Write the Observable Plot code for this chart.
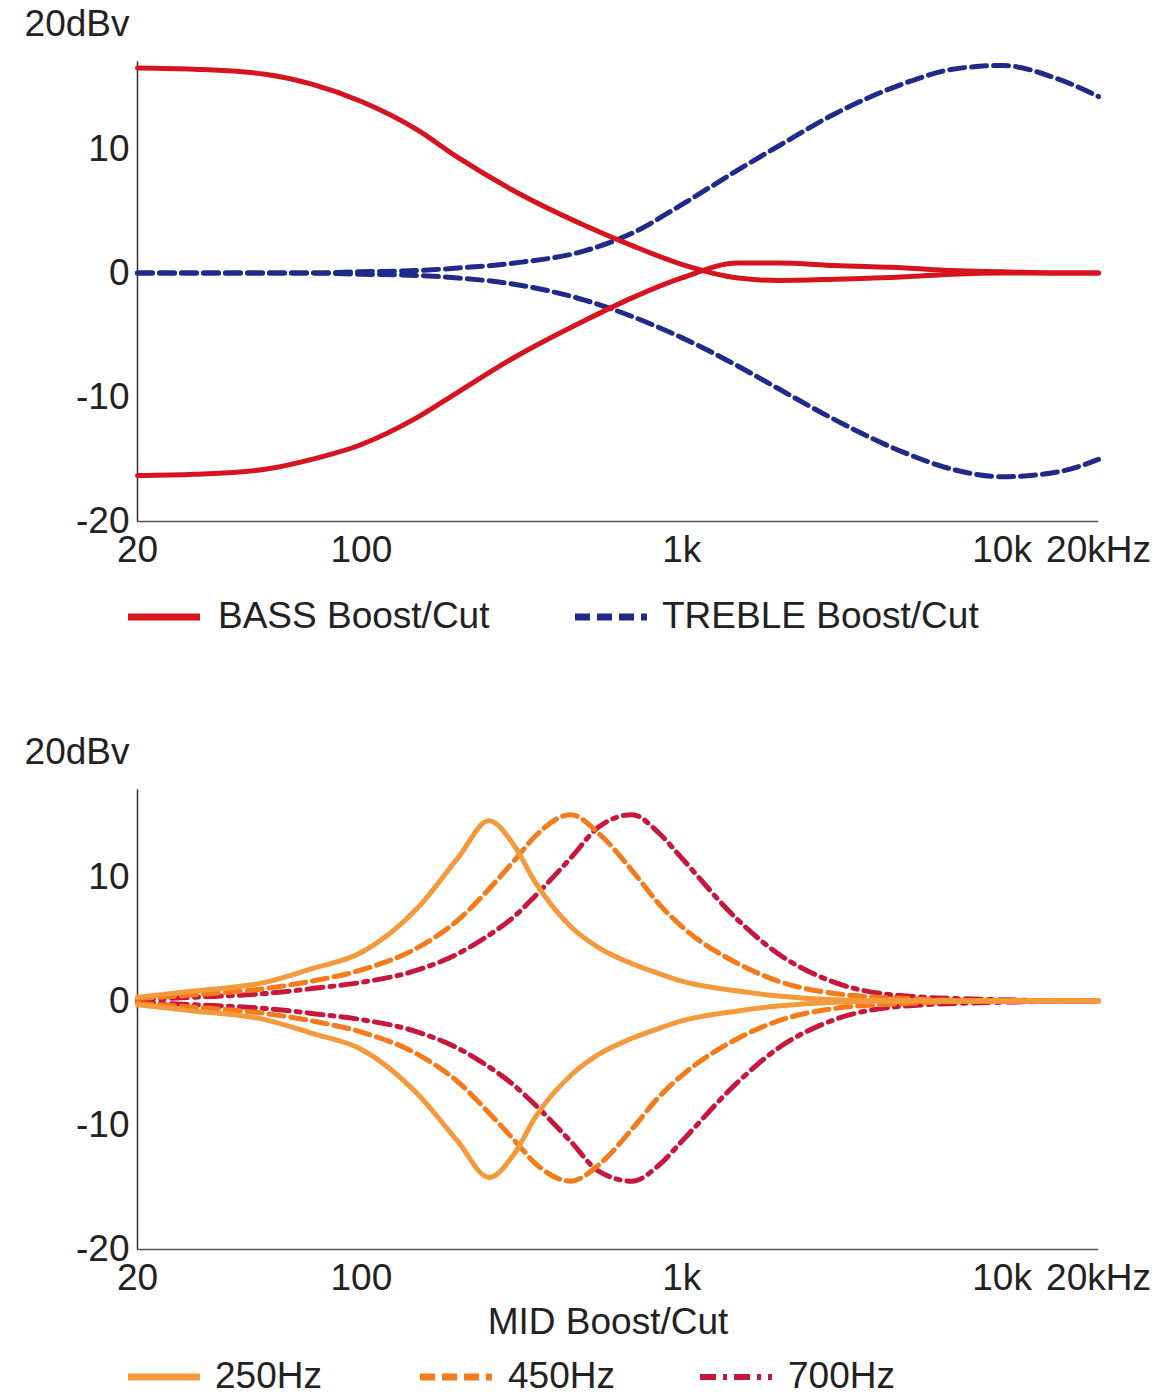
<!DOCTYPE html>
<html><head><meta charset="utf-8">
<script src="https://cdn.jsdelivr.net/npm/d3@7"></script>
<script src="https://cdn.jsdelivr.net/npm/@observablehq/plot@0.6"></script>
<style>
body{margin:0;background:#fff;font-family:"Liberation Sans",Arial,sans-serif;color:#222}
.leg{position:relative;width:1174px;font-size:37px}
.leg svg{position:absolute}
.leg span{position:absolute;white-space:nowrap}
</style></head><body>
<div id="top"></div>
<div class="leg" style="height:157px">
  <svg style="left:128px;top:34px" width="72" height="24"><line x1="0" y1="12" x2="72" y2="12" stroke="#d7141e" stroke-width="7"/></svg>
  <span style="left:218px;top:24px">BASS Boost/Cut</span>
  <svg style="left:575px;top:34px" width="72" height="24"><line x1="0" y1="12" x2="72" y2="12" stroke="#1f2a8a" stroke-width="7" stroke-dasharray="15,7"/></svg>
  <span style="left:662px;top:24px">TREBLE Boost/Cut</span>
</div>
<div id="bot"></div>
<div class="leg" style="height:101px">
  <span style="left:0;width:1216px;text-align:center;top:2px">MID Boost/Cut</span>
  <svg style="left:128px;top:66px" width="72" height="24"><line x1="0" y1="12" x2="72" y2="12" stroke="#f59a3c" stroke-width="7"/></svg>
  <span style="left:215px;top:56px">250Hz</span>
  <svg style="left:420px;top:66px" width="72" height="24"><line x1="0" y1="12" x2="72" y2="12" stroke="#f47a1a" stroke-width="7" stroke-dasharray="15,7"/></svg>
  <span style="left:508px;top:56px">450Hz</span>
  <svg style="left:700px;top:66px" width="72" height="24"><line x1="0" y1="12" x2="72" y2="12" stroke="#c8173c" stroke-width="6" stroke-dasharray="16,7,4,7"/></svg>
  <span style="left:788px;top:56px">700Hz</span>
</div>
<script>
const yTicks=[20,10,0,-10,-20];
const yLabels=["20dBv","10","0","-10","-20"];
const xTicks=[20,100,1000,10000,20000];
const xLabels=["20","100","1k","10k","20kHz"];

const fTop=[20,30,50,70,100,150,200,300,500,700,1000,1500,2000,3000,5000,7000,10000,15000,20000];
const bassBoost=[16.5,16.4,16,15.2,13.8,11.5,9.3,6.6,3.8,2.2,0.7,-0.4,-0.6,-0.5,-0.3,-0.1,0,0,0];
const bassCut=[-16.3,-16.2,-15.8,-15,-13.8,-11.6,-9.6,-6.8,-3.8,-2,-0.4,0.8,0.8,0.6,0.4,0.2,0.1,0,0];
const trebleBoost=[0,0,0,0,0.1,0.2,0.4,0.8,1.8,3.2,5.5,8.3,10.2,12.8,15.3,16.4,16.7,15.6,14.2];
const trebleCut=[0,0,0,0,-0.1,-0.2,-0.4,-0.9,-2.2,-3.5,-5.2,-7.5,-9.3,-11.8,-14.5,-15.8,-16.4,-16,-15];

const fMid=[20,30,50,70,100,150,200,250,300,350,450,550,700,850,1000,1500,2000,3000,5000,10000,20000];
const mid250Boost=[0.3,0.8,1.5,2.6,3.9,7.5,11.5,14.5,12.5,9.5,6,4.3,3,2.2,1.6,0.8,0.4,0.1,0,0,0];
const mid250Cut=[-0.3,-0.8,-1.5,-2.6,-3.9,-7.5,-11.3,-14.2,-12.3,-9.3,-6,-4.3,-3,-2.2,-1.6,-0.8,-0.4,-0.1,0,0,0];
const mid450Boost=[0.2,0.5,1,1.6,2.5,4.3,6.5,9,11.3,13.3,15,13.5,10.5,7.8,6,3,1.6,0.6,0.2,0,0];
const mid450Cut=[-0.2,-0.5,-1,-1.6,-2.5,-4.3,-6.5,-9,-11.2,-13.1,-14.5,-13.2,-10.3,-7.7,-6,-3,-1.6,-0.6,-0.2,0,0];
const mid700Boost=[0.1,0.3,0.6,1,1.5,2.5,3.8,5.3,6.8,8.5,11.5,14,15,13.5,11.5,6.5,3.8,1.5,0.4,0.1,0];
const mid700Cut=[-0.1,-0.3,-0.6,-1,-1.5,-2.5,-3.8,-5.3,-6.8,-8.4,-11.3,-13.7,-14.5,-13.2,-11.3,-6.5,-3.8,-1.5,-0.4,-0.1,0];

const toRows=(fs,vs)=>fs.map((f,i)=>({f,v:vs[i]}));

function chart(series){
  return Plot.plot({
    width:1174,height:571,marginLeft:137,marginRight:76,marginTop:24,marginBottom:50,
    style:{fontSize:"37px",fontFamily:"Liberation Sans, Arial, sans-serif",color:"#222",background:"#fff",overflow:"visible"},
    x:{type:"log",domain:[20,20000]},
    y:{domain:[-20,20]},
    marks:[
      Plot.ruleY([-20],{stroke:"#555",strokeWidth:1.5}),
      Plot.ruleX([20],{y1:-20,y2:17,stroke:"#333",strokeWidth:1.5}),
      Plot.axisY(yTicks,{tickSize:0,tickPadding:8,tickFormat:(d)=>yLabels[yTicks.indexOf(d)],label:null,fill:"#222"}),
      Plot.axisX(xTicks,{tickSize:0,tickPadding:14,tickFormat:d=>xLabels[xTicks.indexOf(d)],label:null,fill:"#222"}),
      ...series.map(s=>Plot.line(toRows(s.f,s.v),{x:"f",y:"v",stroke:s.c,strokeWidth:5,strokeDasharray:s.d||null,curve:"monotone-x"}))
    ]
  });
}
const red="#d7141e",navy="#1f2a8a",lo="#f59a3c",or="#f47a1a",cr="#c8173c";
document.getElementById("top").append(chart([
  {f:fTop,v:trebleBoost,c:navy,d:"15,7"},{f:fTop,v:trebleCut,c:navy,d:"15,7"},
  {f:fTop,v:bassBoost,c:red},{f:fTop,v:bassCut,c:red}
]));
document.getElementById("bot").append(chart([
  {f:fMid,v:mid700Boost,c:cr,d:"16,7,4,7"},{f:fMid,v:mid700Cut,c:cr,d:"16,7,4,7"},
  {f:fMid,v:mid450Boost,c:or,d:"15,7"},{f:fMid,v:mid450Cut,c:or,d:"15,7"},
  {f:fMid,v:mid250Boost,c:lo},{f:fMid,v:mid250Cut,c:lo}
]));
</script>
</body></html>
